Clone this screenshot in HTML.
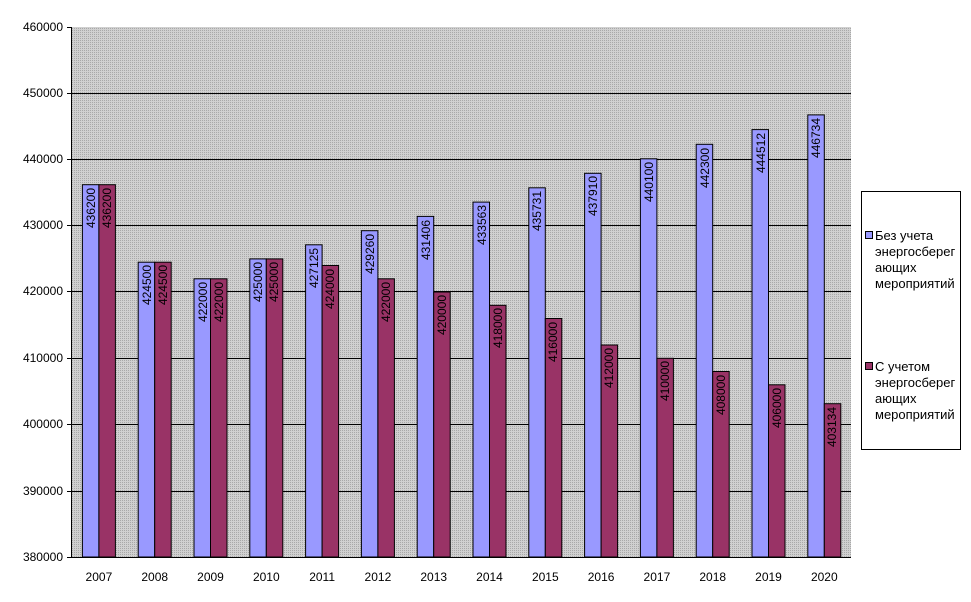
<!DOCTYPE html>
<html><head><meta charset="utf-8"><style>body{margin:0;background:#fff}svg{display:block}</style></head><body>
<svg width="971" height="602" xmlns="http://www.w3.org/2000/svg" font-family="Liberation Sans, sans-serif" font-size="11">
<defs><pattern id="p" width="2" height="2" patternUnits="userSpaceOnUse"><rect width="2" height="2" fill="#d0d0d0"/><rect width="1" height="1" fill="#a8a8a8"/></pattern></defs>
<rect x="71" y="27" width="780" height="530" fill="url(#p)"/>
<g stroke="#000" stroke-width="1">
<line x1="71" y1="93.5" x2="851" y2="93.5"/><line x1="71" y1="159.5" x2="851" y2="159.5"/><line x1="71" y1="225.5" x2="851" y2="225.5"/><line x1="71" y1="291.5" x2="851" y2="291.5"/><line x1="71" y1="358.5" x2="851" y2="358.5"/><line x1="71" y1="424.5" x2="851" y2="424.5"/><line x1="71" y1="491.5" x2="851" y2="491.5"/>
<line x1="71.5" y1="27" x2="71.5" y2="557"/><line x1="71" y1="557.5" x2="851" y2="557.5"/>
<line x1="67" y1="27.5" x2="71" y2="27.5"/><line x1="67" y1="93.5" x2="71" y2="93.5"/><line x1="67" y1="159.5" x2="71" y2="159.5"/><line x1="67" y1="225.5" x2="71" y2="225.5"/><line x1="67" y1="291.5" x2="71" y2="291.5"/><line x1="67" y1="358.5" x2="71" y2="358.5"/><line x1="67" y1="424.5" x2="71" y2="424.5"/><line x1="67" y1="491.5" x2="71" y2="491.5"/><line x1="67" y1="557.5" x2="71" y2="557.5"/>
</g>
<g text-anchor="end" fill="#000" font-size="12">
<text x="63" y="31">460000</text><text x="63" y="97">450000</text><text x="63" y="163">440000</text><text x="63" y="229">430000</text><text x="63" y="295">420000</text><text x="63" y="362">410000</text><text x="63" y="428">400000</text><text x="63" y="495">390000</text><text x="63" y="561">380000</text>
</g>
<g stroke="#000" stroke-width="1">
<rect x="82.4" y="184.7" width="16.5" height="372.3" fill="#9999ff"/><rect x="98.9" y="184.7" width="16.5" height="372.3" fill="#993366"/>
<rect x="138.2" y="262.2" width="16.5" height="294.8" fill="#9999ff"/><rect x="154.7" y="262.2" width="16.5" height="294.8" fill="#993366"/>
<rect x="194" y="278.8" width="16.5" height="278.2" fill="#9999ff"/><rect x="210.5" y="278.8" width="16.5" height="278.2" fill="#993366"/>
<rect x="249.8" y="258.9" width="16.5" height="298.1" fill="#9999ff"/><rect x="266.3" y="258.9" width="16.5" height="298.1" fill="#993366"/>
<rect x="305.6" y="244.8" width="16.5" height="312.2" fill="#9999ff"/><rect x="322.1" y="265.5" width="16.5" height="291.5" fill="#993366"/>
<rect x="361.4" y="230.7" width="16.5" height="326.3" fill="#9999ff"/><rect x="377.9" y="278.8" width="16.5" height="278.2" fill="#993366"/>
<rect x="417.2" y="216.4" width="16.5" height="340.6" fill="#9999ff"/><rect x="433.7" y="292" width="16.5" height="265" fill="#993366"/>
<rect x="473" y="202.1" width="16.5" height="354.9" fill="#9999ff"/><rect x="489.5" y="305.3" width="16.5" height="251.7" fill="#993366"/>
<rect x="528.8" y="187.8" width="16.5" height="369.2" fill="#9999ff"/><rect x="545.3" y="318.5" width="16.5" height="238.5" fill="#993366"/>
<rect x="584.6" y="173.3" width="16.5" height="383.7" fill="#9999ff"/><rect x="601.1" y="345" width="16.5" height="212" fill="#993366"/>
<rect x="640.4" y="158.8" width="16.5" height="398.2" fill="#9999ff"/><rect x="656.9" y="358.3" width="16.5" height="198.7" fill="#993366"/>
<rect x="696.2" y="144.3" width="16.5" height="412.7" fill="#9999ff"/><rect x="712.7" y="371.5" width="16.5" height="185.5" fill="#993366"/>
<rect x="752" y="129.6" width="16.5" height="427.4" fill="#9999ff"/><rect x="768.5" y="384.8" width="16.5" height="172.2" fill="#993366"/>
<rect x="807.8" y="114.9" width="16.5" height="442.1" fill="#9999ff"/><rect x="824.3" y="403.7" width="16.5" height="153.3" fill="#993366"/>
</g>
<g text-anchor="end" font-size="12" fill="#000">
<text transform="translate(95,188) rotate(-90)">436200</text><text transform="translate(111,188) rotate(-90)">436200</text>
<text transform="translate(151,265) rotate(-90)">424500</text><text transform="translate(167,265) rotate(-90)">424500</text>
<text transform="translate(207,282) rotate(-90)">422000</text><text transform="translate(223,282) rotate(-90)">422000</text>
<text transform="translate(262,262) rotate(-90)">425000</text><text transform="translate(278,262) rotate(-90)">425000</text>
<text transform="translate(318,248) rotate(-90)">427125</text><text transform="translate(334,269) rotate(-90)">424000</text>
<text transform="translate(374,234) rotate(-90)">429260</text><text transform="translate(390,282) rotate(-90)">422000</text>
<text transform="translate(430,220) rotate(-90)">431406</text><text transform="translate(446,295) rotate(-90)">420000</text>
<text transform="translate(486,205) rotate(-90)">433563</text><text transform="translate(502,308) rotate(-90)">418000</text>
<text transform="translate(541,191) rotate(-90)">435731</text><text transform="translate(557,322) rotate(-90)">416000</text>
<text transform="translate(597,176) rotate(-90)">437910</text><text transform="translate(613,348) rotate(-90)">412000</text>
<text transform="translate(653,162) rotate(-90)">440100</text><text transform="translate(669,361) rotate(-90)">410000</text>
<text transform="translate(709,148) rotate(-90)">442300</text><text transform="translate(725,375) rotate(-90)">408000</text>
<text transform="translate(765,133) rotate(-90)">444512</text><text transform="translate(781,388) rotate(-90)">406000</text>
<text transform="translate(820,118) rotate(-90)">446734</text><text transform="translate(836,407) rotate(-90)">403134</text>
</g>
<g text-anchor="middle" font-size="12" fill="#000">
<text x="98.9" y="581">2007</text><text x="154.7" y="581">2008</text><text x="210.5" y="581">2009</text><text x="266.3" y="581">2010</text><text x="322.1" y="581">2011</text><text x="377.9" y="581">2012</text><text x="433.7" y="581">2013</text><text x="489.5" y="581">2014</text><text x="545.3" y="581">2015</text><text x="601.1" y="581">2016</text><text x="656.9" y="581">2017</text><text x="712.7" y="581">2018</text><text x="768.5" y="581">2019</text><text x="824.3" y="581">2020</text>
</g>
<rect x="861.5" y="191.5" width="99" height="258" fill="#fff" stroke="#000"/>
<rect x="865.5" y="231.5" width="7" height="7" fill="#9999ff" stroke="#000"/>
<rect x="865.5" y="362.5" width="7" height="7" fill="#993366" stroke="#000"/>
<g font-size="13" fill="#000">
<text x="875" y="240">Без учета</text><text x="875" y="256">энергосберег</text><text x="875" y="272">ающих</text><text x="875" y="288">мероприятий</text>
<text x="875" y="371">С учетом</text><text x="875" y="387">энергосберег</text><text x="875" y="403">ающих</text><text x="875" y="419">мероприятий</text>
</g>
</svg>
</body></html>
